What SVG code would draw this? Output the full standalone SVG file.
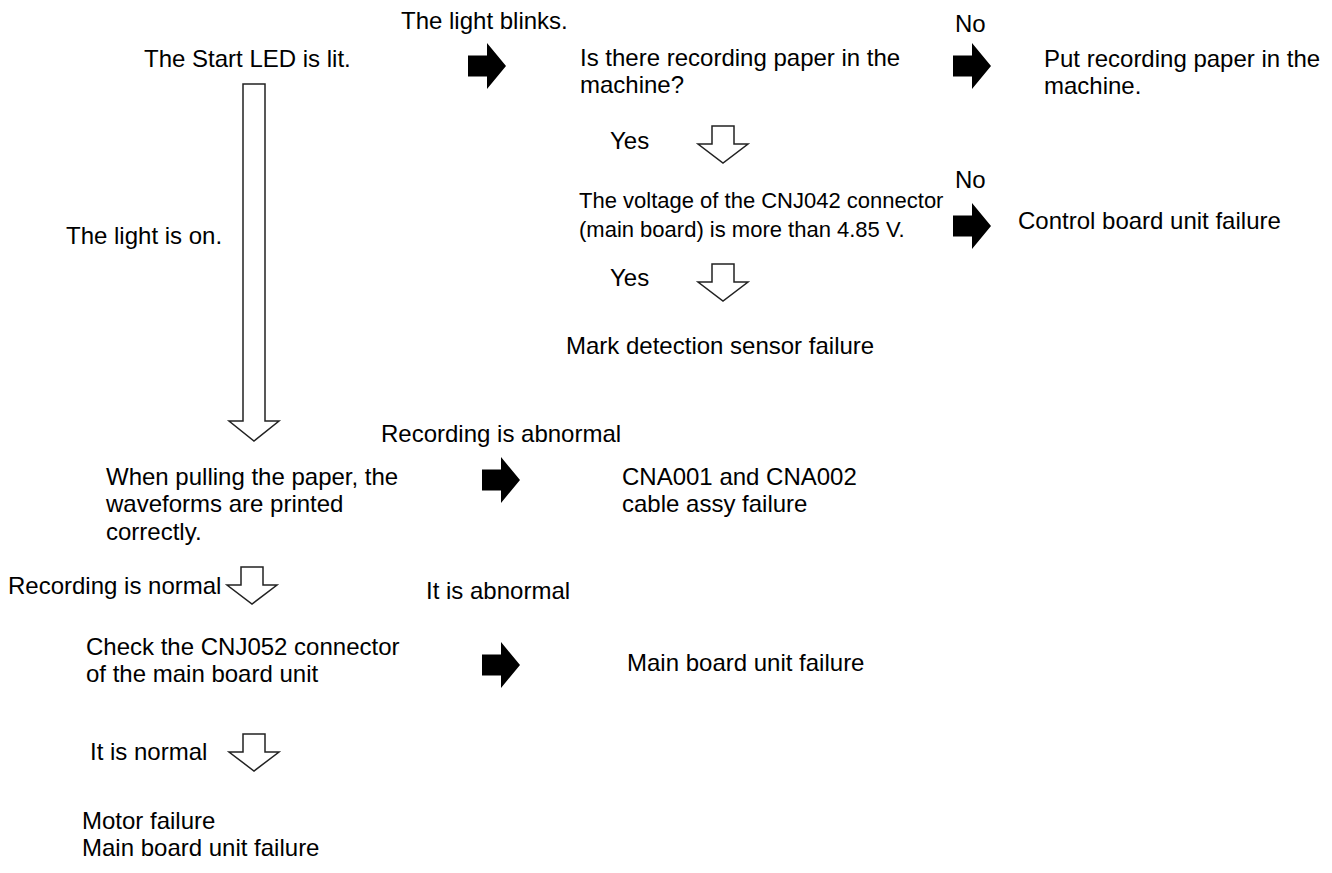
<svg xmlns="http://www.w3.org/2000/svg" width="1332" height="873" viewBox="0 0 1332 873">
<defs>
<style>
text{font-family:"Liberation Sans",Arial,Helvetica,sans-serif;font-size:24px;fill:#000}
.small{font-size:22px}
.hollow{fill:#fff;stroke:#222;stroke-width:1.5;stroke-linejoin:miter}
.solid{fill:#000;stroke:none}
</style>
<path id="blk" d="M0,-10.5 H19 V-23 L38,0 L19,23 V10.5 H0 Z"/>
<path id="hol" d="M-11,0 H11 V18 H25 L0,37 L-25,18 H-11 Z"/>
</defs>
<rect width="1332" height="873" fill="#fff"/>

<g id="connectors">
<use href="#blk" class="solid" x="468" y="66"/>
<use href="#blk" class="solid" x="953" y="66"/>
<use href="#blk" class="solid" x="953" y="226"/>
<use href="#blk" class="solid" x="482" y="480"/>
<use href="#blk" class="solid" x="482" y="665"/>
<use href="#hol" class="hollow" x="723" y="126"/>
<use href="#hol" class="hollow" x="723" y="264"/>
<use href="#hol" class="hollow" x="252" y="567"/>
<use href="#hol" class="hollow" x="254" y="734"/>
<path class="hollow" d="M243,84 H265 V421 H279 L254,441 L229,421 H243 Z"/>
</g>

<g id="labels">
<text x="401" y="29">The light blinks.</text>
<text x="955" y="32">No</text>
<text x="610" y="149">Yes</text>
<text x="955" y="188">No</text>
<text x="66" y="244">The light is on.</text>
<text x="610" y="286">Yes</text>
<text x="381" y="442">Recording is abnormal</text>
<text x="8" y="594">Recording is normal</text>
<text x="426" y="599">It is abnormal</text>
<text x="90" y="760">It is normal</text>
</g>

<g id="node-start"><text x="144" y="67">The Start LED is lit.</text></g>
<g id="node-paper"><text x="580" y="66">Is there recording paper in the</text><text x="580" y="93">machine?</text></g>
<g id="node-put-paper"><text x="1044" y="67">Put recording paper in the</text><text x="1044" y="94">machine.</text></g>
<g id="node-voltage"><text class="small" x="579" y="208">The voltage of the CNJ042 connector</text><text class="small" x="579" y="237">(main board) is more than 4.85 V.</text></g>
<g id="node-control"><text x="1018" y="229">Control board unit failure</text></g>
<g id="node-mark"><text x="566" y="354">Mark detection sensor failure</text></g>
<g id="node-pulling"><text x="106" y="485">When pulling the paper, the</text><text x="106" y="512">waveforms are printed</text><text x="106" y="540">correctly.</text></g>
<g id="node-cable"><text x="622" y="485">CNA001 and CNA002</text><text x="622" y="512">cable assy failure</text></g>
<g id="node-check"><text x="86" y="655">Check the CNJ052 connector</text><text x="86" y="682">of the main board unit</text></g>
<g id="node-mainboard"><text x="627" y="671">Main board unit failure</text></g>
<g id="node-motor"><text x="82" y="829">Motor failure</text><text x="82" y="856">Main board unit failure</text></g>
</svg>
